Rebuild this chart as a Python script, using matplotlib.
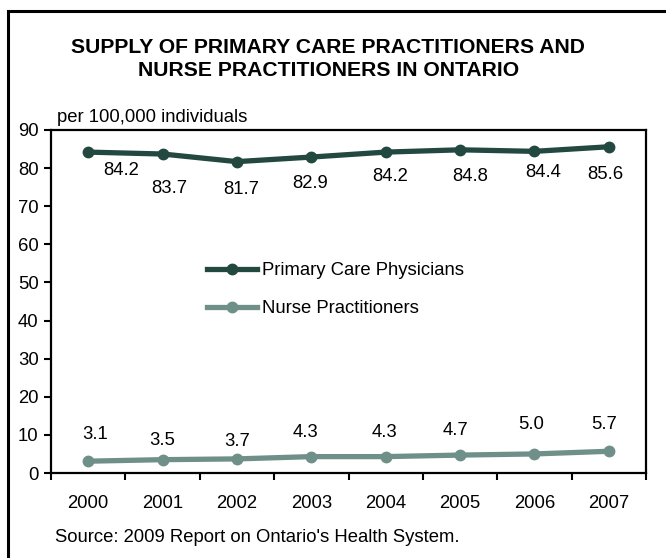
import matplotlib
matplotlib.use("Agg")
import matplotlib.pyplot as plt
from matplotlib.patches import Rectangle

plt.rcParams["font.family"] = ["Liberation Sans", "DejaVu Sans"]

# Data
years = ["2000", "2001", "2002", "2003", "2004", "2005", "2006", "2007"]
physicians = [84.2, 83.7, 81.7, 82.9, 84.2, 84.8, 84.4, 85.6]
nurses = [3.1, 3.5, 3.7, 4.3, 4.3, 4.7, 5.0, 5.7]

# label offsets (pixels) copied from where the labels sit in the original
phys_off = [(33, -18), (7, -34), (4, -28), (-1, -26), (4, -24), (10, -27), (9, -21), (-3, -28)]
nurse_off = [(7, 27), (0, 19), (0, 17), (-6, 24), (-1, 24), (-5, 25), (-3, 29), (-5, 27)]

c_phys = "#234840"
c_nurse = "#6f9088"

W, H = 666, 558
fig = plt.figure(figsize=(W / 100, H / 100), dpi=100)
ax = fig.add_axes([51 / W, 1 - 473 / H, (646 - 51) / W, (473 - 130) / H])

# outer frame (only top/left visible in original, rest is cut off)
fig.patches.append(Rectangle((8 / W, -0.1), 1.2, 1.1 - 11 / H, transform=fig.transFigure,
                             fill=False, edgecolor="black", linewidth=2.2))

x = list(range(len(years)))
ax.plot(x, physicians, color=c_phys, lw=3.8, marker="o", ms=7.5, label="Primary Care Physicians")
ax.plot(x, nurses, color=c_nurse, lw=3.8, marker="o", ms=7.5, label="Nurse Practitioners")

for i, v in enumerate(physicians):
    ax.annotate(f"{v:.1f}", (i, v), xytext=phys_off[i], textcoords="offset pixels",
                ha="center", va="center", fontsize=13.3)
for i, v in enumerate(nurses):
    ax.annotate(f"{v:.1f}", (i, v), xytext=nurse_off[i], textcoords="offset pixels",
                ha="center", va="center", fontsize=13.3)

ax.set_xlim(-0.5, len(years) - 0.5)
ax.set_ylim(0, 90)
ax.set_yticks(range(0, 91, 10))
ax.set_xticks(x)
ax.set_xticklabels(years)
ax.set_xticks([i - 0.5 for i in range(len(years) + 1)], minor=True)
ax.tick_params(axis="x", which="major", length=0, pad=16, labelsize=13.3)
ax.tick_params(axis="x", which="minor", length=5, width=1.5, direction="out")
ax.tick_params(axis="y", length=5, width=1.5, direction="out", pad=4, labelsize=13.3)
for s in ax.spines.values():
    s.set_linewidth(1.6)

ax.legend(loc="upper left", bbox_to_anchor=(207 / W, 1 - 262 / H), bbox_transform=fig.transFigure,
          frameon=False, fontsize=13.3, handlelength=2.7, handletextpad=0.28,
          labelspacing=1.15, borderpad=0, borderaxespad=0)

fig.text(0.493, 1 - 59 / H, "SUPPLY OF PRIMARY CARE PRACTITIONERS AND\nNURSE PRACTITIONERS IN ONTARIO",
         ha="center", va="center", fontsize=15.2, fontweight="bold", linespacing=1.25)
fig.text(57 / W, 1 - 117 / H, "per 100,000 individuals", ha="left", va="center", fontsize=13.3)
fig.text(55 / W, 1 - 537 / H, "Source: 2009 Report on Ontario's Health System.",
         ha="left", va="center", fontsize=13.3)

fig.savefig("out.png", dpi=100)
